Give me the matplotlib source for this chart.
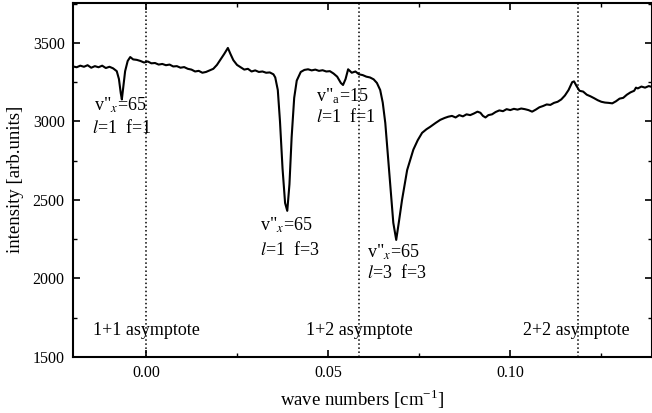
import numpy as np
import matplotlib
matplotlib.use('Agg')
import matplotlib.pyplot as plt
from matplotlib import rcParams
from matplotlib.ticker import MultipleLocator

config = {
    "font.family": 'Liberation Serif',
    "font.size": 12,
    "mathtext.fontset": 'stix',
}
rcParams.update(config)

# spectrum
wave = [-0.0200, -0.0190, -0.0180, -0.0170, -0.0160, -0.0150, -0.0140, -0.0130, -0.0120, -0.0110,
        -0.0100, -0.0090, -0.0080, -0.0074, -0.0069, -0.0066, -0.0062, -0.0057, -0.0050, -0.0043,
        -0.0035, -0.0025, -0.0015, -0.0005, 0.0005, 0.0015, 0.0025, 0.0035, 0.0045, 0.0055,
        0.0065, 0.0075, 0.0085, 0.0095, 0.0105, 0.0115, 0.0125, 0.0135, 0.0145, 0.0155,
        0.0165, 0.0175, 0.0185, 0.0195, 0.0205, 0.0215, 0.0225, 0.0232, 0.0240, 0.0250,
        0.0260, 0.0270, 0.0280, 0.0290, 0.0300, 0.0310, 0.0320, 0.0330, 0.0340, 0.0350,
        0.0355, 0.0362, 0.0368, 0.0375, 0.0382, 0.0388, 0.0394, 0.0400, 0.0407, 0.0414,
        0.0425, 0.0435, 0.0445, 0.0455, 0.0465, 0.0475, 0.0485, 0.0495, 0.0505, 0.0515,
        0.0525, 0.0535, 0.0541, 0.0548, 0.0555, 0.0565, 0.0575, 0.0585, 0.0595, 0.0605,
        0.0615, 0.0625, 0.0634, 0.0643, 0.0650, 0.0657, 0.0668, 0.0679, 0.0687, 0.0695,
        0.0703, 0.0717, 0.0734, 0.0746, 0.0758, 0.0770, 0.0780, 0.0795, 0.0808, 0.0820,
        0.0830, 0.0840, 0.0850, 0.0860, 0.0870, 0.0880, 0.0890, 0.0900, 0.0910, 0.0918,
        0.0925, 0.0932, 0.0940, 0.0950, 0.0960, 0.0970, 0.0980, 0.0990, 0.1000, 0.1010,
        0.1020, 0.1030, 0.1040, 0.1050, 0.1060, 0.1070, 0.1080, 0.1090, 0.1100, 0.1110,
        0.1120, 0.1130, 0.1140, 0.1150, 0.1160, 0.1170, 0.1175, 0.1182, 0.1190, 0.1200,
        0.1210, 0.1220, 0.1230, 0.1240, 0.1250, 0.1260, 0.1270, 0.1280, 0.1290, 0.1300,
        0.1310, 0.1320, 0.1330, 0.1340, 0.1345, 0.1350, 0.1360, 0.1370, 0.1380, 0.1388]
intensity = [3350, 3345, 3355, 3348, 3358, 3342, 3352, 3345, 3355, 3340,
             3348, 3338, 3320, 3270, 3180, 3140, 3220, 3320, 3385, 3410,
             3395, 3392, 3385, 3375, 3382, 3370, 3372, 3362, 3366, 3358,
             3362, 3350, 3352, 3342, 3346, 3335, 3330, 3318, 3322, 3310,
             3315, 3325, 3335, 3360, 3395, 3430, 3468, 3430, 3390, 3360,
             3345, 3330, 3335, 3318, 3325, 3315, 3318, 3310, 3312, 3300,
             3280, 3200, 3000, 2700, 2480, 2430, 2600, 2900, 3150, 3260,
             3315, 3328, 3332, 3325, 3330, 3322, 3326, 3318, 3320, 3305,
             3285, 3245, 3232, 3270, 3332, 3310, 3318, 3300, 3295, 3285,
             3280, 3268, 3245, 3200, 3120, 2990, 2672, 2354, 2245, 2370,
             2500, 2690, 2820, 2880, 2927, 2950, 2965, 2990, 3010, 3022,
             3030, 3035, 3025, 3040, 3032, 3045, 3040, 3050, 3062, 3055,
             3035, 3025, 3040, 3045, 3060, 3070, 3065, 3078, 3072, 3080,
             3075, 3082, 3078, 3072, 3062, 3075, 3090, 3098, 3108, 3105,
             3118, 3125, 3140, 3165, 3200, 3250, 3255, 3225, 3195, 3190,
             3170, 3160, 3148, 3135, 3125, 3120, 3118, 3115, 3128, 3145,
             3150, 3170, 3185, 3195, 3215, 3210, 3222, 3215, 3225, 3220]

asymptotes = [0.0, 0.0585, 0.1185]
asym_labels = ['1+1 asymptote', '1+2 asymptote', '2+2 asymptote']
asym_label_x = [-0.0145, 0.0440, 0.1035]

fig = plt.figure(dpi=100, figsize=(6.52, 4.13))
ax = fig.add_axes([0.112, 0.136, 0.888, 0.857])

ax.plot(wave, intensity, c='k', linestyle='-', linewidth=1.5)
for xa in asymptotes:
    ax.axvline(xa, color='k', linestyle=':', linewidth=1.1)

# asymptote names near the bottom
for xl, lab in zip(asym_label_x, asym_labels):
    ax.text(xl, 1665, lab, fontsize=13, va='center', ha='left')

# peak labels
fs = 13
ax.text(-0.0142, 3105, "v\"$_x$=65", fontsize=fs, va='center')
ax.text(-0.0147, 2958, "$l$=1  f=1", fontsize=fs, va='center')
ax.text(0.0313, 2335, "v\"$_x$=65", fontsize=fs, va='center')
ax.text(0.0313, 2182, "$l$=1  f=3", fontsize=fs, va='center')
ax.text(0.0468, 3160, "v\"$_\\mathregular{a}$=15", fontsize=fs, va='center')
ax.text(0.0468, 3029, "$l$=1  f=1", fontsize=fs, va='center')
ax.text(0.0608, 2168, "v\"$_x$=65", fontsize=fs, va='center')
ax.text(0.0608, 2035, "$l$=3  f=3", fontsize=fs, va='center')

ax.set_xlim(-0.02, 0.1389)
ax.set_ylim(1500, 3755)
ax.xaxis.set_major_locator(MultipleLocator(0.05))
ax.xaxis.set_minor_locator(MultipleLocator(0.025))
ax.yaxis.set_major_locator(MultipleLocator(500))
ax.yaxis.set_minor_locator(MultipleLocator(250))
ax.xaxis.set_major_formatter(matplotlib.ticker.FormatStrFormatter('%.2f'))
ax.tick_params(axis='both', which='both', direction='in', top=True, right=True, labelsize=11.5)
ax.tick_params(which='major', length=5, width=1.2, pad=6)
ax.tick_params(which='minor', length=3, width=1.0)
for sp in ax.spines.values():
    sp.set_linewidth(1.5)

ax.set_xlabel("wave numbers [cm$^{\\mathregular{-1}}$]", fontsize=13.5, labelpad=5)
ax.set_ylabel("intensity [arb.units]", fontsize=13.5, labelpad=6)

plt.savefig('out.png')
